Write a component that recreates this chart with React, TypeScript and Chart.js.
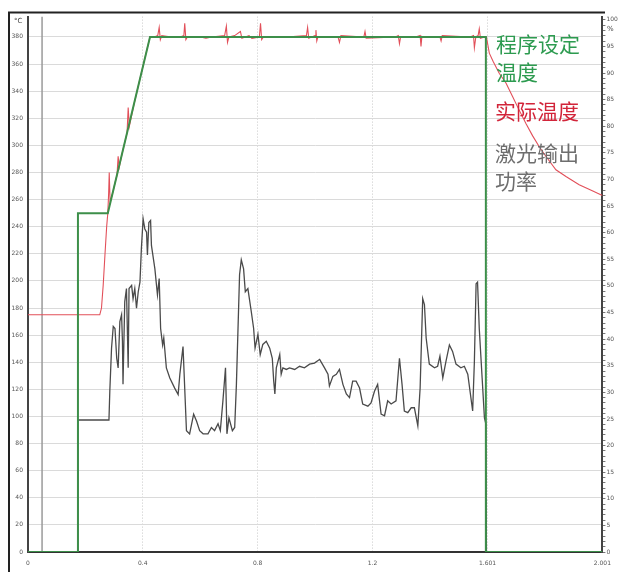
import React, { useEffect, useLayoutEffect, useRef } from 'react';
import { Chart, registerables } from 'chart.js';

Chart.register(...registerables);

// x ticks (time) and their labels
const xTickValues = [0, 0.4, 0.8, 1.2, 1.601, 2.001];
const xTickLabels = ['0', '0.4', '0.8', '1.2', '1.601', '2.001'];

// left axis (°C) tick labels
const tempTickLabels = [0, 20, 40, 60, 80, 100, 120, 140, 160, 180, 200, 220, 240, 260, 280, 300, 320, 340, 360, 380];
// right axis (%) tick labels
const powerTickLabels = [0, 5, 10, 15, 20, 25, 30, 35, 40, 45, 50, 55, 60, 65, 70, 75, 80, 85, 90, 95, 100];

// 程序设定温度 (°C)
const setTimeX = [0, 0.174, 0.174, 0.278, 0.425, 1.595, 1.595, 2.001];
const setTempY = [0, 0, 250, 250, 380, 380, 0, 0];

// 实际温度 (°C)
const actualTimeX = [
  0, 0.25, 0.256, 0.262, 0.268, 0.274, 0.278, 0.281, 0.283, 0.286, 0.295, 0.305, 0.31, 0.314, 0.318,
  0.33, 0.345, 0.349, 0.353, 0.37, 0.39, 0.4, 0.41, 0.425, 0.44, 0.452, 0.457, 0.461, 0.466, 0.5,
  0.53, 0.543, 0.546, 0.55, 0.555, 0.6, 0.62, 0.64, 0.685, 0.691, 0.695, 0.7, 0.72, 0.74, 0.745,
  0.77, 0.78, 0.806, 0.81, 0.814, 0.82, 0.9, 0.97, 0.974, 0.978, 1.0, 1.003, 1.006, 1.01, 1.08,
  1.085, 1.09, 1.17, 1.174, 1.178, 1.28, 1.29, 1.294, 1.298, 1.35, 1.366, 1.369, 1.372, 1.435,
  1.439, 1.443, 1.54, 1.552, 1.555, 1.56, 1.568, 1.572, 1.576, 1.59, 1.597, 1.607, 1.62, 1.642,
  1.665, 1.688, 1.711, 1.735, 1.758, 1.781, 1.804, 1.839, 1.874, 1.92, 1.96, 2.001,
];
const actualTempY = [
  175, 175, 180, 197, 219, 240, 250, 265, 280, 258, 265, 274, 278, 292, 284,
  296, 309, 328, 314, 331, 349, 358, 367, 380, 380, 381, 387, 378, 381, 380,
  380, 381, 390, 378, 380, 380, 379, 380, 381, 388, 376, 380, 381, 384, 379,
  381, 379, 380, 390, 378, 380, 380, 381, 387, 379, 381, 385, 377, 380, 380,
  376, 381, 380, 384, 379, 380, 381, 375, 380, 380, 381, 373, 380, 380,
  377, 381, 380, 381, 372, 380, 381, 386, 379, 380, 380, 368, 362, 353,
  346, 336, 326, 316, 307, 299, 292, 282, 277, 271, 267, 263,
];

// 激光输出功率 (%)
const powerTimeX = [
  0, 0.174, 0.174, 0.282, 0.285, 0.291, 0.297, 0.303, 0.309, 0.314, 0.32, 0.326, 0.329, 0.331, 0.337,
  0.343, 0.349, 0.352, 0.361, 0.366, 0.372, 0.378, 0.384, 0.39, 0.395, 0.401, 0.407, 0.413, 0.416,
  0.421, 0.427, 0.43, 0.442, 0.451, 0.457, 0.462, 0.469, 0.473, 0.482, 0.494, 0.511, 0.523, 0.529,
  0.54, 0.552, 0.563, 0.577, 0.587, 0.598, 0.61, 0.627, 0.639, 0.65, 0.662, 0.67, 0.679, 0.688,
  0.693, 0.7, 0.712, 0.72, 0.726, 0.737, 0.743, 0.751, 0.757, 0.766, 0.778, 0.786, 0.791, 0.801,
  0.809, 0.818, 0.83, 0.842, 0.851, 0.856, 0.86, 0.865, 0.877, 0.882, 0.888, 0.9, 0.911, 0.929,
  0.946, 0.963, 0.981, 0.998, 1.016, 1.033, 1.045, 1.05, 1.062, 1.074, 1.085, 1.097, 1.109, 1.12,
  1.131, 1.143, 1.155, 1.166, 1.184, 1.195, 1.207, 1.218, 1.23, 1.242, 1.253, 1.265, 1.282, 1.294,
  1.303, 1.311, 1.323, 1.335, 1.346, 1.358, 1.366, 1.375, 1.381, 1.387, 1.398, 1.416, 1.427, 1.435,
  1.445, 1.456, 1.468, 1.479, 1.491, 1.508, 1.52, 1.532, 1.549, 1.555, 1.561, 1.566, 1.572, 1.582,
  1.59, 1.595, 1.597, 2.001,
];
const powerPctY = [
  0, 0, 24.8, 24.8, 30.2, 38.3, 42.4, 42.0, 36.4, 34.6, 43.3, 44.6, 39.6, 31.5, 47.0,
  49.5, 34.6, 49.5, 50.1, 47.6, 49.5, 45.8, 48.9, 50.7, 57.0, 62.6, 60.7, 60.1, 55.8,
  61.9, 62.3, 57.6, 53.2, 48.3, 51.4, 42.0, 38.9, 40.2, 34.6, 32.7, 30.8, 29.6, 33.4,
  38.6, 22.8, 22.2, 25.9, 24.6, 22.8, 22.2, 22.2, 23.4, 22.8, 24.1, 22.8, 28.4, 34.6,
  22.2, 25.2, 22.8, 23.4, 31.5, 52.1, 54.9, 53.2, 48.9, 49.5, 45.1, 42.0, 38.3, 40.9,
  37.1, 39.0, 39.6, 38.3, 36.4, 32.1, 29.7, 34.6, 37.1, 33.4, 34.6, 34.3, 34.6, 34.3,
  34.9, 34.6, 35.3, 35.5, 36.2, 34.6, 33.4, 31.2, 33.0, 33.4, 34.3, 31.5, 29.7, 29.0,
  32.1, 32.1, 30.8, 27.8, 27.4, 28.0, 30.2, 31.5, 25.9, 25.6, 28.4, 27.8, 28.4, 36.4,
  31.5, 26.5, 26.2, 27.1, 27.1, 23.7, 30.8, 47.6, 46.5, 40.2, 35.3, 34.6, 34.9, 36.8,
  32.7, 35.8, 38.9, 37.7, 35.3, 34.6, 34.9, 33.4, 26.5, 35.8, 50.4, 50.7, 42.0, 32.7,
  25.2, 24.1, 0, 0,
];

// gray cursor line
const markerX = [0.049, 0.049];
const markerY = [0, 395];

const toPoints = (xs: number[], ys: number[]) => xs.map((x, i) => ({ x, y: ys[i] }));

const framePlugin = {
  id: 'frame',
  afterDraw(chart: any) {
    const ctx = chart.ctx;
    ctx.save();
    ctx.fillStyle = '#222';
    ctx.fillRect(0, 4, 2, chart.height - 4);
    ctx.fillRect(0, 3.5, 597, 2);
    ctx.restore();
  },
};

export default function App() {
  const ref = useRef<HTMLCanvasElement>(null);

  useLayoutEffect(() => {
    const prev = document.body.style.margin;
    document.body.style.margin = '0';
    return () => {
      document.body.style.margin = prev;
    };
  }, []);

  useEffect(() => {
    if (!ref.current) return;
    const chart = new Chart(ref.current, {
      type: 'line',
      data: {
        datasets: [
          {
            label: '程序设定温度',
            data: toPoints(setTimeX, setTempY),
            borderColor: '#3d8f4a',
            borderWidth: 2,
            pointRadius: 0,
            yAxisID: 'y',
            order: 0,
          },
          {
            label: '实际温度',
            data: toPoints(actualTimeX, actualTempY),
            borderColor: '#e2505a',
            borderWidth: 1.1,
            pointRadius: 0,
            yAxisID: 'y',
            order: 1,
          },
          {
            label: '激光输出功率',
            data: toPoints(powerTimeX, powerPctY),
            borderColor: '#4a4a4a',
            borderWidth: 1.3,
            pointRadius: 0,
            yAxisID: 'y1',
            order: 2,
          },
          {
            label: 'marker',
            data: toPoints(markerX, markerY),
            borderColor: '#9a9a9a',
            borderWidth: 1.5,
            pointRadius: 0,
            yAxisID: 'y',
            order: 3,
          },
        ],
      },
      options: {
        responsive: false,
        animation: false,
        layout: { padding: { top: 5, left: 0, right: 0, bottom: 0 } },
        plugins: { legend: { display: false }, tooltip: { enabled: false } },
        elements: { line: { tension: 0 } },
        scales: {
          x: {
            type: 'linear',
            min: 0,
            max: 2.001,
            afterBuildTicks: (s: any) => {
              s.ticks = xTickValues.map((v) => ({ value: v }));
            },
            afterFit: (s: any) => {
              s.height = 20;
            },
            ticks: {
              callback: (_v: any, i: number) => xTickLabels[i],
              font: { size: 6, family: 'DejaVu Sans' },
              color: '#555',
              padding: 8,
              maxRotation: 0,
              autoSkip: false,
            },
            grid: { color: '#c8c8c8', drawTicks: false, lineWidth: 1 },
            border: { color: '#333', width: 2, dash: [1, 2] },
          },
          y: {
            position: 'left',
            min: 0,
            max: 395,
            afterBuildTicks: (s: any) => {
              s.ticks = tempTickLabels.map((v) => ({ value: v }));
            },
            afterFit: (s: any) => {
              s.width = 20;
            },
            ticks: {
              font: { size: 6, family: 'DejaVu Sans' },
              color: '#555',
              padding: 5,
              autoSkip: false,
            },
            grid: { color: '#dadada', drawTicks: false, lineWidth: 1 },
            border: { color: '#444', width: 2 },
          },
          y1: {
            position: 'right',
            min: 0,
            max: 100.6,
            afterFit: (s: any) => {
              s.width = 16;
            },
            ticks: {
              stepSize: 1,
              includeBounds: false,
              autoSkip: false,
              callback: (v: any) => (powerTickLabels.includes(v) ? String(v) : ''),
              font: { size: 6, family: 'DejaVu Sans' },
              color: '#555',
              padding: 1,
            },
            grid: { drawOnChartArea: false, drawTicks: true, tickLength: 3, tickColor: '#777' },
            border: { color: '#444', width: 2 },
          },
        },
      },
      plugins: [framePlugin],
    } as any);
    return () => chart.destroy();
  }, []);

  const cjk = '"Noto Sans CJK SC", sans-serif';
  const txt = (t: string, left: number, top: number, color: string) => (
    <div
      style={{
        position: 'absolute',
        left,
        top,
        fontFamily: cjk,
        fontSize: 21,
        lineHeight: '21px',
        color,
        whiteSpace: 'nowrap',
      }}
    >
      {t}
    </div>
  );

  return (
    <div style={{ position: 'relative', width: 619, height: 572, overflow: 'hidden', background: '#fff' }}>
      <div style={{ position: 'absolute', left: 8, top: 8, width: 611, height: 564 }}>
        <canvas ref={ref} width={611} height={564} style={{ width: 611, height: 564, display: 'block' }} />
        <div style={{ position: 'absolute', left: 6, top: 9, fontSize: 7, fontFamily: 'DejaVu Sans', color: '#444' }}>°C</div>
        <div style={{ position: 'absolute', left: 599, top: 17, fontSize: 7, fontFamily: 'DejaVu Sans', color: '#444' }}>%</div>
        {txt('程序设定', 488, 25, '#2d9b50')}
        {txt('温度', 488, 53, '#2d9b50')}
        {txt('实际温度', 487, 92, '#d2253a')}
        {txt('激光输出', 487, 134, '#6e6e6e')}
        {txt('功率', 487, 162, '#6e6e6e')}
      </div>
    </div>
  );
}
